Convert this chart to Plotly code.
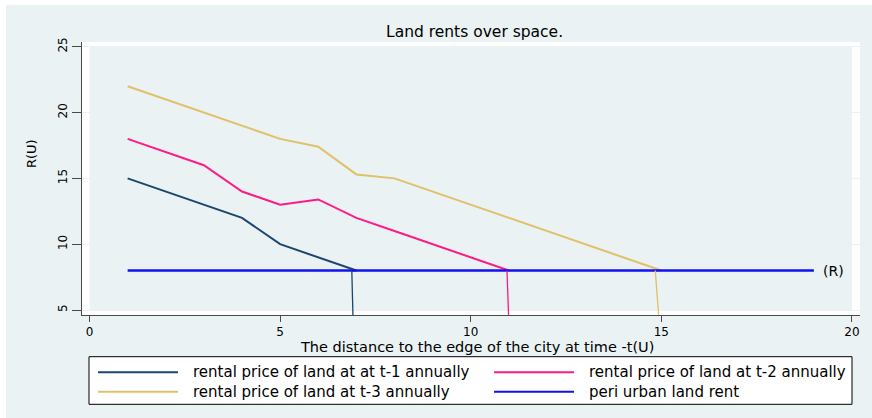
import plotly.graph_objects as go

# Distance to the city edge (x) and annual land rent R(U) (y) for each period.
# The last two points of each period trace the drop at the city boundary.
dist_t1 = [1, 2, 3, 4, 5, 6, 7, 6.88, 6.95]
rent_t1 = [15, 14, 13, 12, 10, 9, 8, 8, 0]

dist_t2 = [1, 2, 3, 4, 5, 6, 7, 8, 9, 10, 11, 10.95, 11.05]
rent_t2 = [18, 17, 16, 14, 13, 13.4, 12, 11, 10, 9, 8, 8, 0]

dist_t3 = [1, 2, 3, 4, 5, 6, 7, 8, 9, 10, 11, 12, 13, 14, 15, 14.84, 15.05]
rent_t3 = [22, 21, 20, 19, 18, 17.4, 15.3, 15, 14, 13, 12, 11, 10, 9, 8, 8, 0]

dist_peri = list(range(1, 20))
rent_peri = [8] * len(dist_peri)

series_names = [
    "rental price of land at at t-1 annually",
    "rental price of land at t-2 annually",
    "rental price of land at t-3 annually",
    "peri urban land rent",
]
x_ticks = [0, 5, 10, 15, 20]
y_ticks = [5, 10, 15, 20, 25]

NAVY = "#1A476F"
PINK = "#FF1A86"
SAND = "#E0C068"
BLUE = "#1010F0"
BG = "#EAF2F3"
FONT = "DejaVu Sans"

# plot-area edges in pixels, used to place decorations in paper coordinates
W, H = 872, 418
L, R, T, B = 82, 860, 42, 315


def fx(p):
    return (p - L) / (R - L)


def fy(p):
    return (B - p) / (B - T)


fig = go.Figure()

curves = [(dist_t1, rent_t1, NAVY), (dist_t2, rent_t2, PINK), (dist_t3, rent_t3, SAND)]
for xs, ys, col in curves:
    fig.add_trace(go.Scatter(x=xs[:-1], y=ys[:-1], mode="lines",
                             line=dict(color=col, width=2), showlegend=False,
                             hoverinfo="skip"))

fig.add_trace(go.Scatter(x=dist_peri, y=rent_peri, mode="lines",
                         line=dict(color=BLUE, width=2.5), showlegend=False,
                         hoverinfo="skip"))

for xs, ys, col in curves:
    fig.add_trace(go.Scatter(x=xs[-2:], y=ys[-2:], mode="lines",
                             line=dict(color=col, width=1.3), showlegend=False,
                             hoverinfo="skip"))

shapes = [
    # inner plot region
    dict(type="rect", xref="x", yref="y", x0=x_ticks[0], x1=x_ticks[-1],
         y0=y_ticks[0], y1=y_ticks[-1], fillcolor=BG, line=dict(width=0),
         layer="below"),
    # thin white page edges
    dict(type="rect", xref="paper", yref="paper", x0=fx(0), x1=fx(6),
         y0=fy(H), y1=fy(0), fillcolor="white", line=dict(width=0), layer="below"),
    dict(type="rect", xref="paper", yref="paper", x0=fx(0), x1=fx(W),
         y0=fy(5), y1=fy(0), fillcolor="white", line=dict(width=0), layer="below"),
    # legend box
    dict(type="rect", xref="paper", yref="paper", x0=fx(89), x1=fx(852),
         y0=fy(404.3), y1=fy(356.7), fillcolor="white",
         line=dict(color="black", width=1), layer="above"),
]

legend_slots = [
    (98, 178, 191, 372.3, NAVY, series_names[0]),
    (494, 574, 587, 372.3, PINK, series_names[1]),
    (98, 178, 191, 391.7, SAND, series_names[2]),
    (494, 574, 587, 391.7, BLUE, series_names[3]),
]

annotations = []
for x0, x1, tx, yy, col, name in legend_slots:
    shapes.append(dict(type="line", xref="paper", yref="paper", x0=fx(x0), x1=fx(x1),
                       y0=fy(yy), y1=fy(yy), line=dict(color=col, width=2),
                       layer="above"))
    annotations.append(dict(x=fx(tx), y=fy(yy), xref="paper", yref="paper",
                            text=name, showarrow=False, xanchor="left",
                            yanchor="middle", font=dict(family=FONT, size=15,
                                                        color="black")))

annotations += [
    dict(x=fx(474), y=fy(32), xref="paper", yref="paper",
         text="Land rents over space.", showarrow=False, xanchor="center",
         yanchor="middle", font=dict(family=FONT, size=15.5, color="black")),
    dict(x=fx(476.5), y=fy(346.5), xref="paper", yref="paper",
         text="The distance to the edge of the city at time -t(U)", showarrow=False,
         xanchor="center", yanchor="middle",
         font=dict(family=FONT, size=14.5, color="black")),
    dict(x=fx(31), y=fy(154), xref="paper", yref="paper", text="R(U)",
         showarrow=False, textangle=-90, xanchor="center", yanchor="middle",
         font=dict(family=FONT, size=13, color="black")),
    dict(x=dist_peri[-1], y=rent_peri[-1], xref="x", yref="y", text="(R)",
         showarrow=False, xanchor="left", yanchor="middle", xshift=7,
         font=dict(family=FONT, size=14, color="black")),
]

fig.update_layout(
    width=W, height=H, autosize=False,
    margin=dict(l=L, r=W - R, t=T, b=H - B, pad=0),
    paper_bgcolor=BG, plot_bgcolor="white",
    shapes=shapes, annotations=annotations, showlegend=False,
    xaxis=dict(range=[-0.197, 20.21], tickvals=x_ticks, ticks="outside",
               ticklen=6, tickwidth=1.3, tickcolor="#4a4a4a", showline=True,
               linecolor="#4a4a4a", linewidth=1.3, showgrid=False, zeroline=False,
               ticklabelstandoff=-1,
               tickfont=dict(family=FONT, size=12, color="black")),
    yaxis=dict(range=[4.62, 25.36], tickvals=y_ticks, ticks="outside",
               ticklen=9, tickwidth=1.3, tickcolor="#4a4a4a", showline=True,
               linecolor="#4a4a4a", linewidth=1.3, showgrid=True, gridcolor=BG,
               gridwidth=1, zeroline=False, tickangle=-90,
               tickfont=dict(family=FONT, size=12, color="black")),
)

fig.write_html("out.html")
